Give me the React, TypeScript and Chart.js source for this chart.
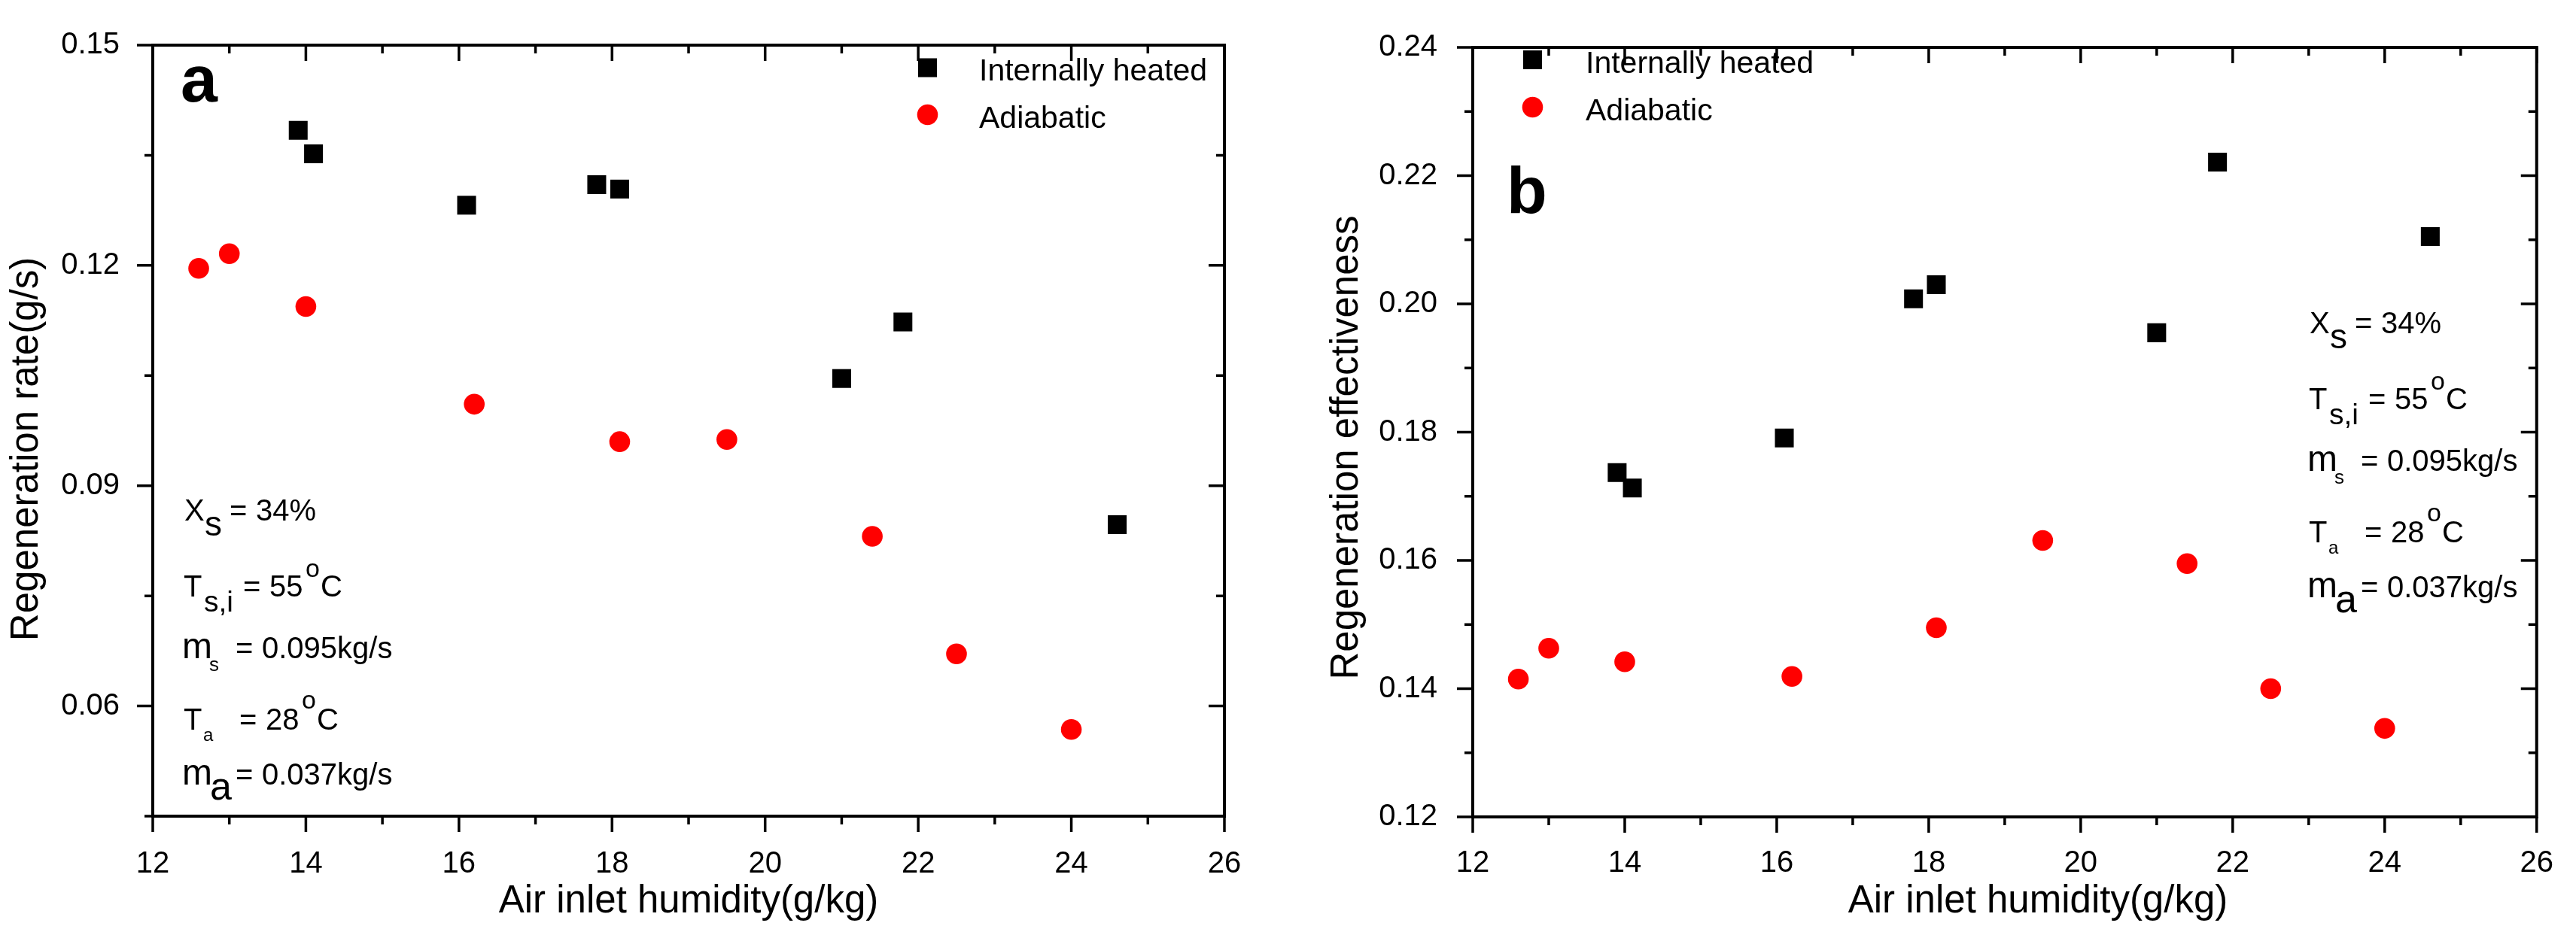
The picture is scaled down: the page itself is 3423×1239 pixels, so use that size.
import { useEffect, useRef } from 'react'
import { Chart, registerables } from 'chart.js'

Chart.register(...registerables)

// values
const HUMIDITY_HEATED = [13.9, 14.1, 16.1, 17.8, 18.1, 21.0, 21.8, 24.6]
const HUMIDITY_ADIABATIC = [12.6, 13.0, 14.0, 16.2, 18.1, 19.5, 21.4, 22.5, 24.0]

const RATE_HEATED = [0.1384, 0.1352, 0.1282, 0.131, 0.1304, 0.1046, 0.1123, 0.0847]
const RATE_ADIABATIC = [0.1196, 0.1216, 0.1144, 0.1011, 0.096, 0.0963, 0.0831, 0.0671, 0.0568]

const EFF_HEATED = [0.1737, 0.1713, 0.1791, 0.2008, 0.203, 0.1955, 0.2221, 0.2105]
const EFF_ADIABATIC = [0.1415, 0.1463, 0.1442, 0.1419, 0.1495, 0.1631, 0.1595, 0.14, 0.1338]

const X_TICKS = [12, 14, 16, 18, 20, 22, 24, 26]
const X_MINOR = [13, 15, 17, 19, 21, 23, 25]
const Y_TICKS_A = [0.06, 0.09, 0.12, 0.15]
const Y_MINOR_A = [0.045, 0.075, 0.105, 0.135]
const Y_TICKS_B = [0.12, 0.14, 0.16, 0.18, 0.2, 0.22, 0.24]
const Y_MINOR_B = [0.13, 0.15, 0.17, 0.19, 0.21, 0.23]

const SERIES = ['Internally heated', 'Adiabatic']

const FONT = "'Liberation Sans', Arial, sans-serif"
const H = 1239

// [text, size, dx, dy] per row of the parameter note
const NOTE = [
  [['X', 40, 0, 0], ['s', 46, 27, 20], ['=', 40, 60, 0], ['34%', 40, 95, 0]],
  [['T', 40, -1, 0], ['s,i', 39, 26, 20], ['=', 40, 78, 0], ['55', 40, 113, 0], ['o', 34, 161, -26], ['C', 40, 181, 0]],
  [['m', 48, -3, 0], ['s', 26, 33, 17], ['=', 40, 68, 0], ['0.095kg/s', 40, 103, 0]],
  [['T', 40, -1, 0], ['a', 24, 25, 15], ['=', 40, 73, 0], ['28', 40, 108, 0], ['o', 34, 156, -28], ['C', 40, 176, 0]],
  [['m', 48, -3, 0], ['a', 52, 34, 20], ['=', 40, 68, 0], ['0.037kg/s', 40, 103, 0]],
]

const panelA = {
  left: 0, width: 1712,
  area: { left: 203, right: 1627, top: 42, bottom: 1085 },
  yMin: 0.045, yMax: 0.15, yTicks: Y_TICKS_A, yMinor: Y_MINOR_A,
  heated: RATE_HEATED, adiabatic: RATE_ADIABATIC,
  yTitle: 'Regeneration rate(g/s)', yTitleX: 50, yTitleY: 597,
  xTitleX: 915, xTitleY: 1213,
  letter: 'a', letterX: 240, letterY: 135,
  legendX: 1232.5, legendY: [90, 152.5], legendTextX: 1301, legendBase: [107, 170],
  noteX: 245, noteRows: [692, 793, 875, 970, 1043],
  yPad: 36, xPad: 32,
}

const panelB = {
  left: 1712, width: 1711,
  area: { left: 245, right: 1678, top: 35, bottom: 1086 },
  yMin: 0.12, yMax: 0.24, yTicks: Y_TICKS_B, yMinor: Y_MINOR_B,
  heated: EFF_HEATED, adiabatic: EFF_ADIABATIC,
  yTitle: 'Regeneration effectiveness', yTitleX: 92, yTitleY: 595,
  xTitleX: 996, xTitleY: 1213,
  letter: 'b', letterX: 290, letterY: 283,
  legendX: 324.5, legendY: [79.5, 142.5], legendTextX: 395, legendBase: [97, 160],
  noteX: 1357, noteRows: [443, 544, 626, 721, 794],
  yPad: 39, xPad: 30,
}

function framePlugin(p) {
  return {
    id: 'frame' + p.letter,
    afterDatasetsDraw(chart) {
      const { ctx, chartArea: a } = chart
      const x = chart.scales.x
      const y = chart.scales.y
      ctx.save()
      ctx.strokeStyle = '#000'
      ctx.fillStyle = '#000'
      ctx.lineWidth = 4
      ctx.strokeRect(a.left, a.top, a.right - a.left, a.bottom - a.top)

      ctx.lineWidth = 3.5
      ctx.beginPath()
      const xt = (vals, len) => vals.forEach((v) => {
        const px = x.getPixelForValue(v)
        ctx.moveTo(px, a.bottom); ctx.lineTo(px, a.bottom + len)
        ctx.moveTo(px, a.top); ctx.lineTo(px, a.top + len)
      })
      const yt = (vals, len) => vals.forEach((v) => {
        const py = y.getPixelForValue(v)
        ctx.moveTo(a.left - len, py); ctx.lineTo(a.left, py)
        ctx.moveTo(a.right, py); ctx.lineTo(a.right - len, py)
      })
      xt(X_TICKS, 21); xt(X_MINOR, 11)
      yt(p.yTicks, 21); yt(p.yMinor, 11)
      ctx.stroke()

      // axis titles
      ctx.font = `51px ${FONT}`
      ctx.textAlign = 'center'
      ctx.textBaseline = 'alphabetic'
      ctx.fillText('Air inlet humidity(g/kg)', p.xTitleX, p.xTitleY)
      ctx.save()
      ctx.translate(p.yTitleX, p.yTitleY)
      ctx.rotate(-Math.PI / 2)
      ctx.fillText(p.yTitle, 0, 0)
      ctx.restore()

      // panel letter
      ctx.textAlign = 'left'
      ctx.font = `bold 88px ${FONT}`
      ctx.fillText(p.letter, p.letterX, p.letterY)

      // legend
      const r = 17.7 * Math.SQRT1_2
      ctx.fillStyle = '#000'
      ctx.fillRect(p.legendX - r, p.legendY[0] - r, 2 * r, 2 * r)
      ctx.fillStyle = '#ff0000'
      ctx.beginPath()
      ctx.arc(p.legendX, p.legendY[1], 13.8, 0, Math.PI * 2)
      ctx.fill()
      ctx.fillStyle = '#000'
      ctx.font = `41px ${FONT}`
      SERIES.forEach((s, i) => ctx.fillText(s, p.legendTextX, p.legendBase[i]))

      // parameter note
      NOTE.forEach((row, i) => {
        row.forEach(([t, size, dx, dy]) => {
          ctx.font = `${size}px ${FONT}`
          ctx.fillText(t, p.noteX + dx, p.noteRows[i] + dy)
        })
      })
      ctx.restore()
    },
  }
}

function makeConfig(p) {
  const a = p.area
  return {
    type: 'scatter',
    data: {
      datasets: [
        {
          label: SERIES[0],
          data: HUMIDITY_HEATED.map((h, i) => ({ x: h, y: p.heated[i] })),
          pointStyle: 'rect',
          pointRadius: 17.7,
          backgroundColor: '#000',
          borderWidth: 0,
        },
        {
          label: SERIES[1],
          data: HUMIDITY_ADIABATIC.map((h, i) => ({ x: h, y: p.adiabatic[i] })),
          pointStyle: 'circle',
          pointRadius: 13.8,
          backgroundColor: '#ff0000',
          borderWidth: 0,
        },
      ],
    },
    options: {
      animation: false,
      responsive: false,
      devicePixelRatio: 1,
      layout: { padding: { left: 0, top: a.top, right: p.width - a.right, bottom: 0 } },
      plugins: { legend: { display: false }, tooltip: { enabled: false } },
      scales: {
        x: {
          type: 'linear',
          min: 12,
          max: 26,
          grid: { display: false },
          border: { display: false },
          afterBuildTicks: (s) => { s.ticks = X_TICKS.map((value) => ({ value })) },
          afterFit: (s) => { s.height = H - a.bottom },
          ticks: {
            padding: p.xPad,
            color: '#000',
            font: { family: FONT, size: 40 },
            callback: (v) => String(v),
          },
        },
        y: {
          type: 'linear',
          min: p.yMin,
          max: p.yMax,
          grid: { display: false },
          border: { display: false },
          afterBuildTicks: (s) => { s.ticks = p.yTicks.map((value) => ({ value })) },
          afterFit: (s) => { s.width = a.left },
          ticks: {
            padding: p.yPad,
            color: '#000',
            font: { family: FONT, size: 40 },
            callback: (v) => Number(v).toFixed(2),
          },
        },
      },
    },
    plugins: [framePlugin(p)],
  }
}

function Panel({ p }) {
  const ref = useRef(null)

  useEffect(() => {
    const chart = new Chart(ref.current, makeConfig(p))
    return () => chart.destroy()
  }, [p])

  return (
    <canvas
      ref={ref}
      width={p.width}
      height={H}
      style={{ position: 'absolute', left: p.left, top: 0, width: p.width, height: H }}
    ></canvas>
  )
}

export default function App() {
  return (
    <div style={{ position: 'absolute', left: 0, top: 0, width: 3423, height: H, background: '#fff' }}>
      <Panel p={panelA} />
      <Panel p={panelB} />
    </div>
  )
}
